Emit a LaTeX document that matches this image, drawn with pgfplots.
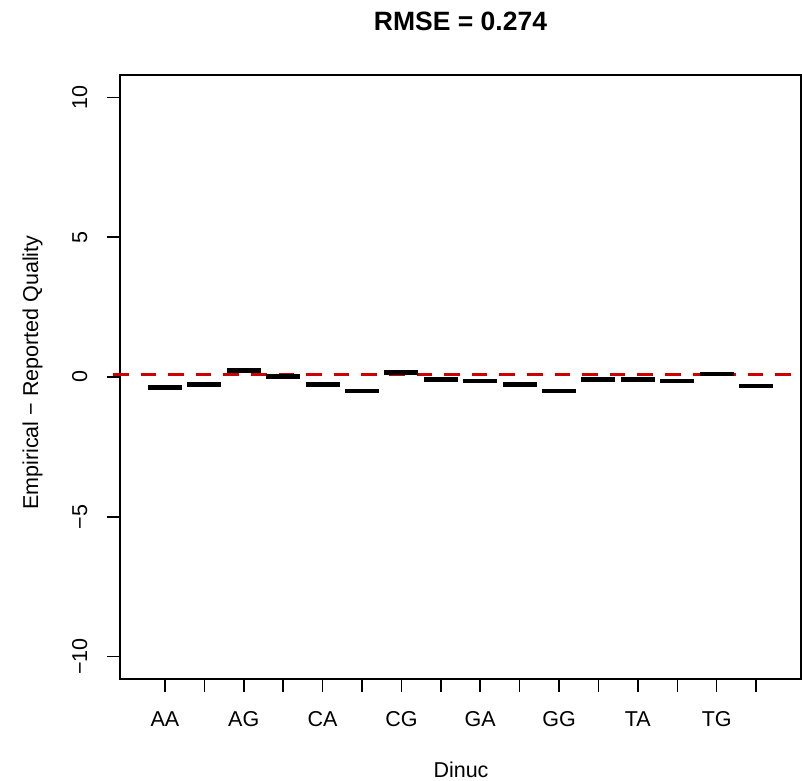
\documentclass[border=0pt]{standalone}
\usepackage{fontspec}
\setmainfont{Liberation Sans}
\usepackage{pgfplots}
\pgfplotsset{compat=1.18}
\usetikzlibrary{plotmarks}
\definecolor{rred}{RGB}{205,0,0}
\pgfplotstableread{
x y
1 -0.38
2 -0.26
3 0.23
4 0.01
5 -0.26
6 -0.50
7 0.15
8 -0.08
9 -0.14
10 -0.26
11 -0.50
12 -0.08
13 -0.08
14 -0.14
15 0.11
16 -0.32
}\dinuc
\begin{document}
\begin{tikzpicture}[x=1bp,y=1bp]
\path[use as bounding box] (0,0) rectangle (802,781);
\begin{axis}[
  at={(120bp,102bp)}, anchor=south west,
  scale only axis, width=681bp, height=604bp,
  xmin=-0.14, xmax=17.14, ymin=-10.8, ymax=10.8,
  clip=false,
  axis line style={line width=1.5bp},
  every tick/.style={line width=1.5bp, black},
  tick align=outside, major tick length=13bp,
  xtick pos=bottom, ytick pos=left,
  xtick={1,...,16}, xticklabels={AA,,AG,,CA,,CG,,GA,,GG,,TA,,TG,},
  ytick={-10,-5,0,5,10}, yticklabels={−10,−5,0,5,10},
  tick label style={font=\fontsize{21.5bp}{25bp}\selectfont},
  xticklabel style={anchor=base, yshift=-35bp},
  yticklabel style={anchor=base, xshift=-20bp, rotate=90},
]
\addplot[only marks, mark=-, mark size=17bp, mark options={line width=4.8bp, black}] table[x=x, y=y] {\dinuc};
\addplot[rred, line width=3.3bp, dash pattern=on 15.6bp off 12bp] coordinates {(-0.32,0.1) (17.14,0.1)};
\end{axis}
\node[anchor=base, font=\bfseries\fontsize{26.5bp}{30bp}\selectfont] at (460.5,750) {RMSE = 0.274};
\node[anchor=base, font=\fontsize{21.5bp}{25bp}\selectfont] at (461,3) {Dinuc};
\node[anchor=base, rotate=90, font=\fontsize{21.5bp}{25bp}\selectfont] at (38,408.4) {Empirical − Reported Quality};
\end{tikzpicture}
\end{document}
